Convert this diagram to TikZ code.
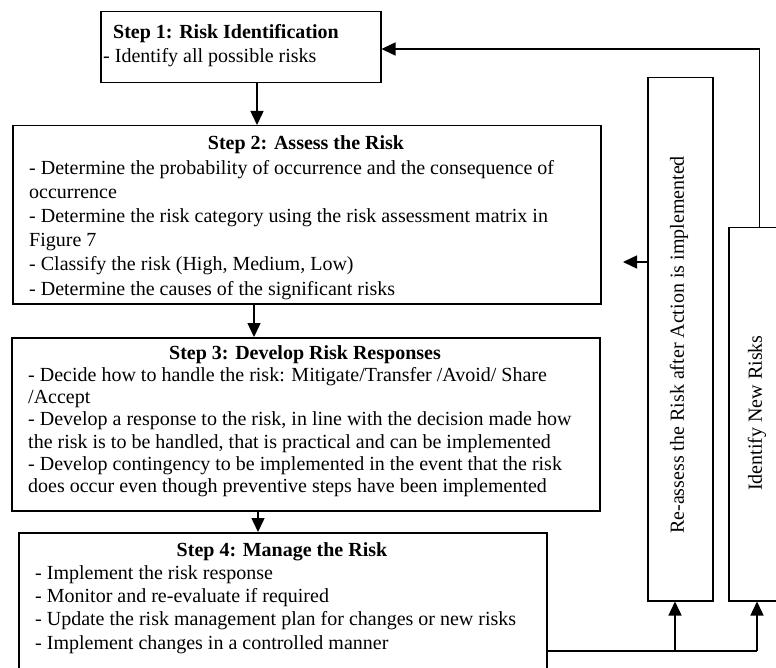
\documentclass[tikz,border=0pt]{standalone}
\usepackage{fontspec}
\setmainfont{Liberation Serif}
\usepackage{graphicx}
\usetikzlibrary{arrows.meta}
\begin{document}
\begin{tikzpicture}[x=1pt,y=-1pt,
  stepbox/.style={draw, line width=1.5pt, inner sep=0pt, anchor=north west},
  head/.style={inner sep=0pt, anchor=base, font=\fontsize{20}{24}\selectfont\bfseries},
  body/.style={inner sep=0pt, anchor=base west, align=left},
  conn/.style={line width=1.5pt},
  arr/.style={conn, -{Triangle[length=14pt,width=13pt]}},
  vtext/.style={inner sep=0pt, rotate=90, font=\fontsize{20}{24}\selectfont}]
\useasboundingbox (0,0) rectangle (776,668);
\clip (0,0) rectangle (776,668);

% boxes
\node[stepbox, minimum width=280pt, minimum height=71pt]  (s1) at (100,11)  {};
\node[stepbox, minimum width=588pt, minimum height=178pt] (s2) at (12,125)  {};
\node[stepbox, minimum width=588pt, minimum height=173pt] (s3) at (11,337)  {};
\node[stepbox, minimum width=528pt, minimum height=140pt] (s4) at (18,532)  {};
\node[stepbox, minimum width=65pt,  minimum height=523pt] (ra) at (647,77)  {};
\node[stepbox, minimum width=64pt,  minimum height=373pt] (ni) at (728,227) {};

% step 1
\node[head, anchor=base west] (h1) at (113,39) {Step 1: Risk Identification};
\node[body, font=\fontsize{20}{24}\selectfont] (b1) at (103,63)
  {\parbox[t]{270pt}{\raggedright - Identify all possible risks}};

% step 2
\node[head] (h2) at (306,150) {Step 2: Assess the Risk};
\node[body, font=\fontsize{20}{24.2}\selectfont] (b2) at (29,174.2)
  {\parbox[t]{570pt}{\raggedright
   - Determine the probability of occurrence and the consequence of\\
   occurrence\\
   - Determine the risk category using the risk assessment matrix in\\
   Figure 7\\
   - Classify the risk (High, Medium, Low)\\
   - Determine the causes of the significant risks}};

% step 3
\node[head] (h3) at (305,359) {Step 3: Develop Risk Responses};
\node[body, font=\fontsize{20}{22.3}\selectfont] (b3) at (28,381.3)
  {\parbox[t]{570pt}{\raggedright
   - Decide how to handle the risk: Mitigate/Transfer /Avoid/ Share\\
   /Accept\\
   - Develop a response to the risk, in line with the decision made how\\
   the risk is to be handled, that is practical and can be implemented\\
   - Develop contingency to be implemented in the event that the risk\\
   does occur even though preventive steps have been implemented}};

% step 4
\node[head] (h4) at (282,556) {Step 4: Manage the Risk};
\node[body, font=\fontsize{20}{23.3}\selectfont] (b4) at (35,579.3)
  {\parbox[t]{500pt}{\raggedright
   - Implement the risk response\\
   - Monitor and re-evaluate if required\\
   - Update the risk management plan for changes or new risks\\
   - Implement changes in a controlled manner}};

% side boxes
\node[vtext] (tra) at (679,345) {Re-assess the Risk after Action is implemented};
\node[vtext] (tni) at (757,413) {Identify New Risks};

% main flow
\coordinate (x12) at (257,0);
\coordinate (x23) at (254,0);
\coordinate (x34) at (258,0);
\draw[arr] (s1.south -| x12) -- (s2.north -| x12);
\draw[arr] (s2.south -| x23) -- (s3.north -| x23);
\draw[arr] (s3.south -| x34) -- (s4.north -| x34);

% feedback loops
\coordinate (busR) at (757,651);
\coordinate (busM) at (675,651);
\draw[conn] (s4.east |- busR) -- (busR);
\draw[arr] (busR) -- (busR |- ni.south);
\draw[arr] (busM) -- (busM |- ra.south);

\coordinate (topR) at (759.5,49);
\draw[arr] (topR |- ni.north) -- (topR) -- (topR -| s1.east);

\coordinate (raOut) at (623,262);
\draw[arr] (ra.west |- raOut) -- (raOut);
\end{tikzpicture}
\end{document}
